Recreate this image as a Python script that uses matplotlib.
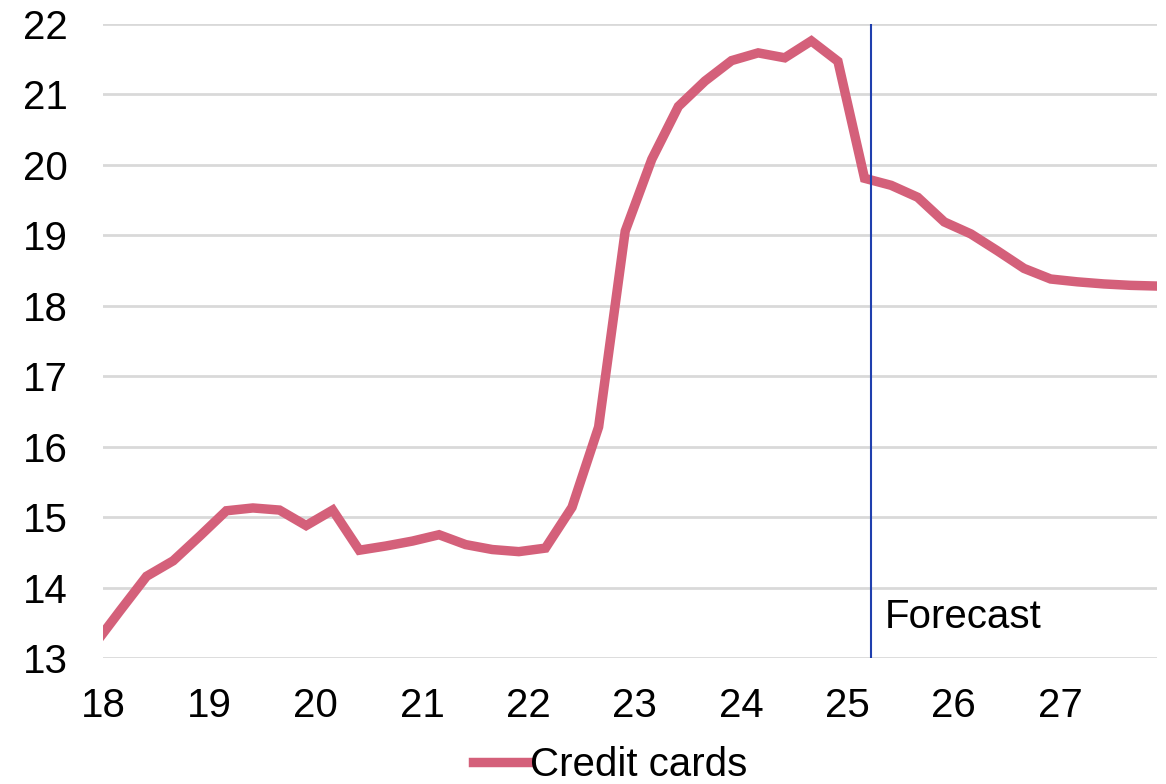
import matplotlib
matplotlib.use("Agg")
import matplotlib.pyplot as plt
import numpy as np

plt.rcParams['font.family'] = ['Liberation Sans', 'DejaVu Sans']

# quarterly series, first point sits just left of the axis start
credit_cards = [13.17, 13.67, 14.16, 14.38, 14.73, 15.09, 15.13, 15.10, 14.88, 15.10,
                14.53, 14.59, 14.66, 14.75, 14.61, 14.54, 14.51, 14.56, 15.14, 16.28,
                19.06, 20.08, 20.83, 21.19, 21.48, 21.59, 21.52, 21.76, 21.47, 19.81,
                19.71, 19.54, 19.19, 19.02, 18.78, 18.53, 18.38, 18.34, 18.31, 18.29,
                18.28]
first_quarter = 17.91
year_ticks = [18, 19, 20, 21, 22, 23, 24, 25, 26, 27]
y_ticks = [13, 14, 15, 16, 17, 18, 19, 20, 21, 22]
forecast_start = 25.22

x = first_quarter + 0.25 * np.arange(len(credit_cards))

fig = plt.figure(figsize=(11.66, 7.84), dpi=100)
ax = fig.add_axes([0.0883, 0.1607, 0.904, 0.8087])

ax.plot(x, credit_cards, color='#d4607a', lw=6.8, solid_joinstyle='miter',
        label='Credit cards', zorder=3)
ax.axvline(forecast_start, color='#1f3fae', lw=1.5, zorder=4)
ax.text(forecast_start + 0.13, 13.58, 'Forecast', fontsize=29, va='center', ha='left')

ax.set_xlim(18, 27.91)
ax.set_ylim(13, 22)
ax.set_xticks(year_ticks)
ax.set_yticks(y_ticks)
ax.set_xticklabels([str(t) for t in year_ticks], fontsize=29)
ax.set_yticklabels([str(t) for t in y_ticks], fontsize=29, ha='left')
ax.tick_params(axis='x', length=0, pad=21)
ax.tick_params(axis='y', length=0, pad=57.6)
ax.grid(axis='y', color='#d9d9d9', lw=2)
ax.set_axisbelow(True)
for s in ax.spines.values():
    s.set_visible(False)

fig.legend(loc='center', bbox_to_anchor=(0.523, 0.024), frameon=False, fontsize=29,
           handlelength=1.4, handletextpad=0.02, borderpad=0, borderaxespad=0)

fig.savefig('out.png', dpi=100)
